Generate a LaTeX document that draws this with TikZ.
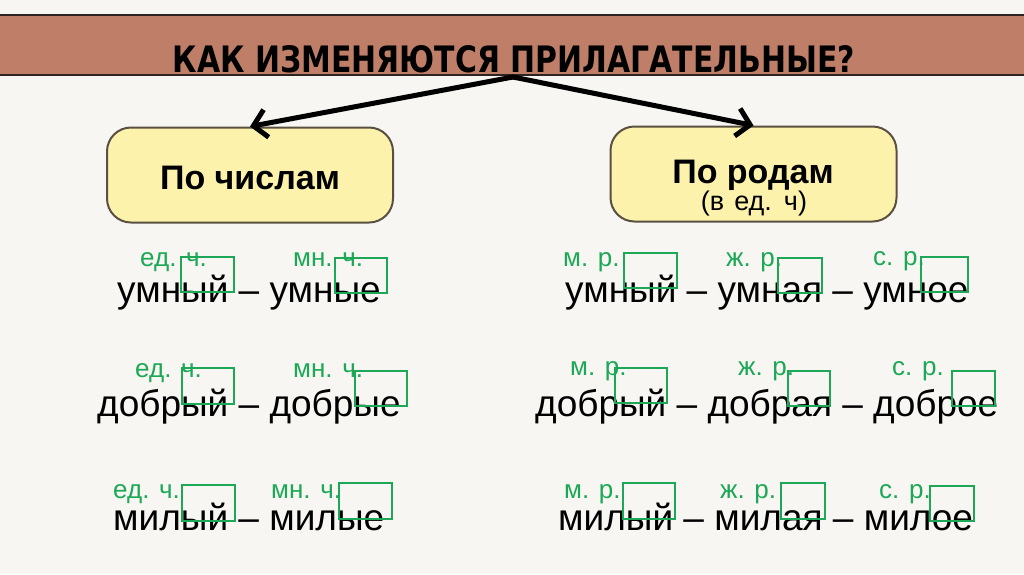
\documentclass[tikz,border=0pt]{standalone}
\usepackage{fontspec}
\setmainfont{Liberation Sans}
\newfontfamily\titlefont{DejaVu Sans}
\usetikzlibrary{arrows.meta}
\definecolor{bg}{RGB}{247,246,242}
\definecolor{band}{RGB}{191,126,104}
\definecolor{bandline}{RGB}{45,35,32}
\definecolor{boxfill}{RGB}{252,242,172}
\definecolor{boxline}{RGB}{90,80,66}
\definecolor{grn}{RGB}{28,168,86}
\begin{document}
\begin{tikzpicture}[x=1pt,y=-1pt,
  word/.style={anchor=base west,inner sep=0pt,font=\fontsize{37}{40}\selectfont,text=black},
  lab/.style={anchor=base west,inner sep=0pt,font=\fontsize{26}{28}\selectfont,text=grn},
  gbox/.style={draw=grn,line width=2pt},
  cat/.style={draw=boxline,fill=boxfill,line width=2pt,rounded corners=24pt,minimum width=286pt,minimum height=95pt,inner sep=0pt},
  cattext/.style={anchor=base,inner sep=0pt,font=\bfseries\fontsize{34}{36}\selectfont},
  arr/.style={line width=5pt,-{Straight Barb[length=13pt,width=28pt]},line cap=round,line join=round}]
\fill[bg] (0,0) rectangle (1024,574);
\useasboundingbox (0,0) rectangle (1024,574);
% title band
\fill[band] (0,15) rectangle (1024,75);
\draw[bandline,line width=2pt] (0,15) -- (1024,15) (0,75) -- (1024,75);
\node[inner sep=0pt,anchor=base] (title) at (514,72.5) {\resizebox{682pt}{27pt}{\titlefont\bfseries КАК ИЗМЕНЯЮТСЯ ПРИЛАГАТЕЛЬНЫЕ?}};
% category boxes
\node[cat] (num) at (250,175) {};
\node[cat] (gen) at (753.5,174) {};
\node[cattext] (numt) at (250,189) {По числам};
\node[cattext] (gent) at (753,183) {По родам};
\node[anchor=base,inner sep=0pt,font=\fontsize{27}{29}\selectfont] (gens) at (754,210) {(в\hspace{10pt}ед.\hspace{12pt}ч)};
% arrows
\coordinate (src) at (513,77);
\draw[arr] (src) -- (num.north);
\draw[arr] (src) -- (gen.north);
% words left
\node[word] (l1) at (117,302) {умный – умные};
\node[word] (l2) at (97,416) {добрый – добрые};
\node[word] (l3) at (113,530) {милый – милые};
% words right
\node[word] (r1) at (565,302) {умный – умная – умное};
\node[word] (r2) at (535,416) {добрый – добрая – доброе};
\node[word] (r3) at (558,530) {милый – милая – милое};
% labels left
\node[lab] (la1) at (140,266) {ед. ч.};
\node[lab] (lb1) at (293,266) {мн. ч.};
\node[lab] (la2) at (135,377) {ед. ч.};
\node[lab] (lb2) at (293,377) {мн. ч.};
\node[lab] (la3) at (113,498) {ед. ч.};
\node[lab] (lb3) at (271,498) {мн. ч.};
% labels right
\node[lab] (ra1) at (563,266) {м. р.};
\node[lab] (rb1) at (726,266) {ж. р.};
\node[lab] (rc1) at (873,265) {с. р.};
\node[lab] (ra2) at (570,375) {м. р.};
\node[lab] (rb2) at (738,375) {ж. р.};
\node[lab] (rc2) at (892,375) {с. р.};
\node[lab] (ra3) at (564,498) {м. р.};
\node[lab] (rb3) at (720,498) {ж. р.};
\node[lab] (rc3) at (879,498) {с. р.};
% green boxes left
\draw[gbox] (181,257) rectangle (234,292);
\draw[gbox] (335,258) rectangle (387,293);
\draw[gbox] (182,368) rectangle (234,404);
\draw[gbox] (355,371) rectangle (407,406);
\draw[gbox] (182,485) rectangle (235,521);
\draw[gbox] (339,483) rectangle (392,519);
% green boxes right
\draw[gbox] (624,253) rectangle (677,288);
\draw[gbox] (778,258) rectangle (822,293);
\draw[gbox] (921,257) rectangle (968,292);
\draw[gbox] (615,368) rectangle (667,403);
\draw[gbox] (788,371) rectangle (830,406);
\draw[gbox] (952,371) rectangle (995,406);
\draw[gbox] (623,483) rectangle (675,519);
\draw[gbox] (781,483) rectangle (825,519);
\draw[gbox] (930,486) rectangle (974,521);
\end{tikzpicture}
\end{document}
